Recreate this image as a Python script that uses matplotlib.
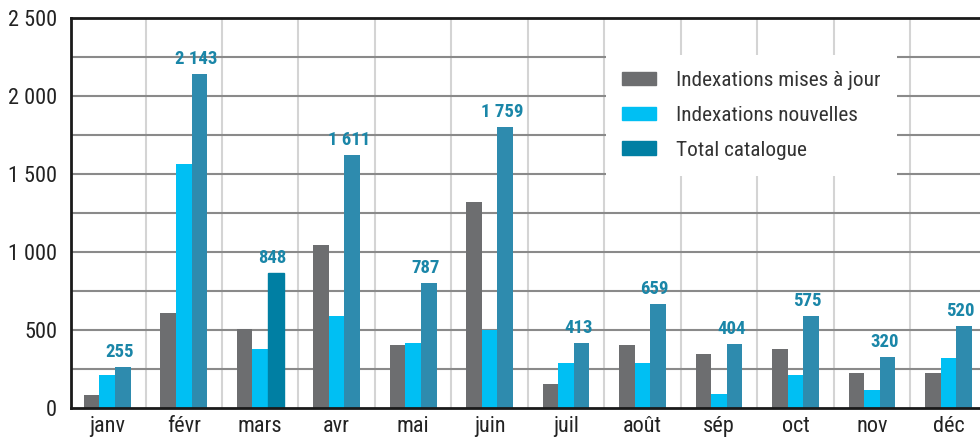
import numpy as np
import matplotlib.pyplot as plt
from matplotlib.patches import Patch

# Catalogue monthly indexations
mois = ["janv", "févr", "mars", "avr", "mai", "juin",
        "juil", "août", "sép", "oct", "nov", "déc"]

mises_a_jour = [80, 606, 506, 1043, 401, 1319, 151, 401, 343, 375, 221, 221]
nouvelles = [209, 1563, 375, 587, 414, 497, 286, 286, 87, 209, 112, 318]
total = [260, 2141, 863, 1621, 799, 1800, 414, 664, 407, 587, 324, 523]
total_labels = ["255", "2 143", "848", "1 611", "787", "1 759",
                "413", "659", "404", "575", "320", "520"]

gris = "#6d6e70"
cyan = "#00bff3"
teal = "#2e8bae"
teal_fonce = "#007fa3"
label_color = "#1a86a8"

plt.rcParams['font.family'] = ['Roboto Condensed', 'Liberation Sans Narrow', 'Roboto', 'DejaVu Sans']

fig = plt.figure(figsize=(9.8, 4.4), dpi=100)
ax = fig.add_axes([71 / 980, 1 - 407.5 / 440, 1 - 71 / 980, 389.5 / 440])

x = np.arange(len(mois))
w = 0.203

# vertical separators between months
for b in np.arange(0.5, len(mois), 1.0):
    ax.axvline(b, color="#d4d4d4", lw=1.5, zorder=0)

# horizontal gridlines every 250
for g in range(250, 2500, 250):
    ax.axhline(g, color="#8a8a8a", lw=1.5, zorder=0)

ax.bar(x - w, mises_a_jour, w, color=gris, zorder=2)
ax.bar(x, nouvelles, w, color=cyan, zorder=2)
bars = ax.bar(x + w, total, w, color=teal, zorder=2)
bars[2].set_color(teal_fonce)

for i, (v, lab) in enumerate(zip(total, total_labels)):
    ax.annotate(lab, (x[i] + w - 0.045, v), xytext=(0, 7), textcoords="offset points",
                ha="center", va="baseline", fontsize=13.5, fontweight="bold",
                color=label_color, zorder=3)

ax.set_xlim(-0.474, 11.41)
ax.set_ylim(0, 2500)
ax.set_xticks(x)
ax.set_xticklabels(mois, fontsize=16, color="#222222")
ax.set_yticks(range(0, 2501, 500))
ax.set_yticklabels([f"{v:,}".replace(",", " ") for v in range(0, 2501, 500)],
                   fontsize=16, color="#222222")
ax.tick_params(length=0, pad=6)
ax.tick_params(axis="y", pad=10)

for s in ["left", "top", "bottom"]:
    ax.spines[s].set_linewidth(2)
    ax.spines[s].set_color("#1a1a1a")
ax.spines["right"].set_visible(False)

handles = [Patch(color=gris), Patch(color=cyan), Patch(color=teal_fonce)]
leg = fig.legend(handles, ["Indexations mises à jour", "Indexations nouvelles", "Total catalogue"],
                 loc="upper left", bbox_to_anchor=(606 / 980, 1 - 55 / 440),
                 fontsize=15.3, frameon=True, fancybox=False, edgecolor="none",
                 facecolor="white", framealpha=1, handlelength=1.6, handleheight=0.62,
                 handletextpad=0.95, labelspacing=0.75, borderpad=0.75, borderaxespad=0)
for t in leg.get_texts():
    t.set_color("#333333")

fig.savefig("out.png", dpi=100)
